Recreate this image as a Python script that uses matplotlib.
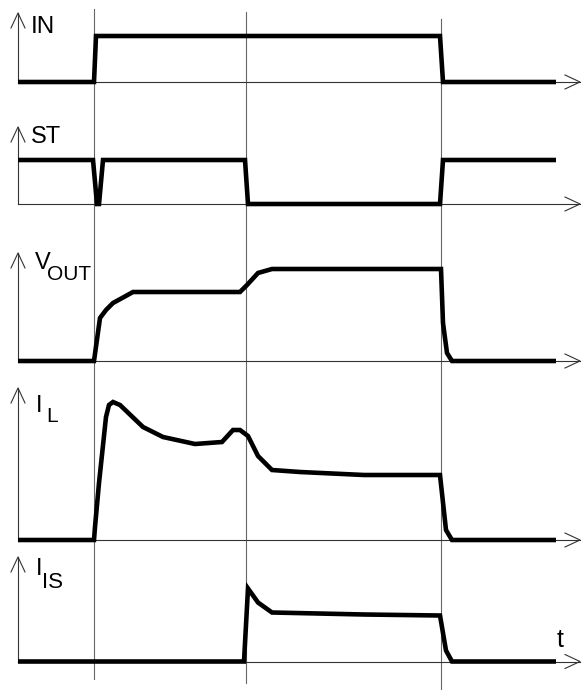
import matplotlib.pyplot as plt

plt.rcParams['font.family'] = ['Liberation Sans', 'DejaVu Sans']

# time points and levels (levels measured up from each trace's own baseline)
t_in = [18, 94, 96, 440, 443, 556]
v_in = [0, 0, 46, 46, 0, 0]

t_st = [18, 93, 97, 99, 103, 245, 248, 440, 443, 556]
v_st = [44, 44, 0, 0, 44, 44, 0, 0, 44, 44]

t_vout = [18, 94, 100, 106, 113, 124, 133, 240, 247, 258, 272, 441, 443, 447, 452, 556]
v_vout = [0, 0, 43, 51, 58, 64, 69, 69, 76, 88, 92, 92, 38, 8, 0, 0]

t_il = [18, 94, 95, 99, 106, 109, 113, 120, 143, 163, 195, 222, 233, 240, 248,
        258, 272, 300, 364, 440, 446, 452, 556]
v_il = [0, 0, 13, 57, 123, 135, 138, 135, 113, 103, 96, 98, 110, 110, 104,
        84, 70, 68, 65, 65, 10, 0, 0]

t_is = [18, 244, 248, 258, 272, 364, 440, 446, 452, 556]
v_is = [0, 0, 73, 59, 49, 47, 46, 11, 0, 0]

traces = [(t_in, v_in), (t_st, v_st), (t_vout, v_vout), (t_il, v_il), (t_is, v_is)]

# layout (pixel units)
baselines = [82, 204, 361, 540, 661.5]
axis_tops = [13, 127, 253, 388, 557]
x0, x_end = 18, 580
markers = [(93.5, 9, 679), (245.7, 12, 683), (441, 19, 690)]

fig = plt.figure(figsize=(5.82, 6.90), dpi=100)
ax = fig.add_axes([0, 0, 1, 1])
ax.set_xlim(0, 582)
ax.set_ylim(690, 0)
ax.axis('off')

# vertical timing markers
for x, y1, y2 in markers:
    ax.plot([x, x], [y1, y2], color='#666666', lw=0.8, zorder=1)

# axes with open arrow heads
for b, top in zip(baselines, axis_tops):
    ax.plot([x0, x0], [b, top], color='#333333', lw=0.8, zorder=2)
    ax.plot([x0 - 7, x0, x0 + 7], [top + 15, top, top + 15], color='#333333', lw=0.8, zorder=2)
    ax.plot([x0, x_end], [b, b], color='#333333', lw=0.8, zorder=2)
    ax.plot([x_end - 15, x_end, x_end - 15], [b - 7, b, b + 7], color='#333333', lw=0.8, zorder=2)

# signals
for (t, v), b in zip(traces, baselines):
    ax.plot(t, [b - val for val in v], color='black', lw=3.3, zorder=3,
            solid_joinstyle='miter', solid_capstyle='butt')

# labels
ax.text(31, 33, 'IN', fontsize=17.5, va='baseline')
ax.text(31, 143, 'ST', fontsize=17, va='baseline')
ax.text(35, 269, 'V', fontsize=17, va='baseline')
ax.text(47, 280, 'OUT', fontsize=15, va='baseline')
ax.text(36, 412, 'I', fontsize=17, va='baseline')
ax.text(46, 422, 'L', fontsize=15, va='baseline')
ax.text(36, 575, 'I', fontsize=17, va='baseline')
ax.text(42, 588, 'IS', fontsize=16, va='baseline')
ax.text(557, 647, 't', fontsize=18, va='baseline')

fig.savefig('out.png', dpi=100)
